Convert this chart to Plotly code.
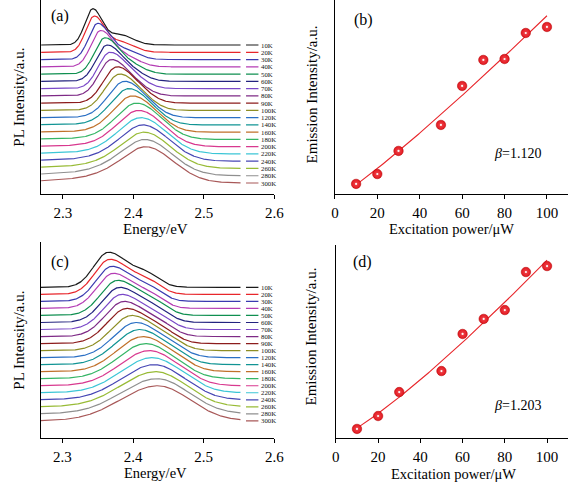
import numpy as np
import plotly.graph_objects as go

# ---------------- data ----------------
temps = [10, 20, 30, 40, 50, 60, 70, 80, 90, 100, 120, 140, 160, 180, 200, 220, 240, 260, 280, 300]
temp_labels = [f"{t}K" for t in temps]

# sample (a): peak energy (eV), left/right half widths (eV), high-energy shoulder weight, low-energy tail weight
peak_a = [2.342, 2.344, 2.349, 2.353, 2.359, 2.362, 2.366, 2.368, 2.376, 2.380,
          2.387, 2.393, 2.398, 2.404, 2.407, 2.410, 2.413, 2.415, 2.416, 2.417]
hwl_a = [0.013, 0.014, 0.015, 0.016, 0.017, 0.018, 0.019, 0.020, 0.022, 0.024,
         0.027, 0.030, 0.032, 0.035, 0.037, 0.039, 0.041, 0.043, 0.045, 0.046]
hwr_a = [0.015, 0.017, 0.019, 0.021, 0.023, 0.025, 0.027, 0.028, 0.030, 0.031,
         0.033, 0.035, 0.037, 0.039, 0.040, 0.042, 0.043, 0.044, 0.045, 0.046]
shoulder_a = [0.30, 0.29, 0.27, 0.25, 0.23, 0.21, 0.19, 0.17, 0.13, 0.11,
              0.08, 0.06, 0.05, 0.04, 0.03, 0.02, 0.01, 0.0, 0.0, 0.0]
tail_a = [0, 0, 0, 0, 0, 0, 0, 0, 0, 0,
          0.05, 0.10, 0.15, 0.20, 0.25, 0.30, 0.40, 0.45, 0.55, 0.70]

# sample (c)
peak_c = [2.365, 2.367, 2.370, 2.372, 2.378, 2.381, 2.384, 2.387, 2.391, 2.398,
          2.404, 2.409, 2.414, 2.418, 2.423, 2.427, 2.430, 2.432, 2.434, 2.435]
hwl_c = [0.024, 0.025, 0.026, 0.027, 0.028, 0.029, 0.030, 0.031, 0.032, 0.034,
         0.037, 0.040, 0.043, 0.046, 0.049, 0.052, 0.055, 0.058, 0.060, 0.062]
hwr_c = [0.032, 0.033, 0.034, 0.035, 0.036, 0.037, 0.038, 0.039, 0.040, 0.041,
         0.042, 0.043, 0.044, 0.045, 0.046, 0.048, 0.049, 0.050, 0.052, 0.053]
shoulder_c = [0.33, 0.32, 0.30, 0.28, 0.26, 0.24, 0.22, 0.20, 0.18, 0.15,
              0.12, 0.10, 0.08, 0.06, 0.05, 0.04, 0.03, 0.02, 0.01, 0.0]
tail_c = [0] * 20

# excitation-power dependence
power = [10, 20, 30, 50, 60, 70, 80, 90, 100]
emission_b = [0.052, 0.103, 0.222, 0.356, 0.557, 0.691, 0.696, 0.830, 0.861]
emission_d = [0.047, 0.114, 0.238, 0.347, 0.539, 0.617, 0.663, 0.860, 0.891]
beta_b = 1.120
beta_d = 1.203

energy_ticks = [2.3, 2.4, 2.5, 2.6]
power_ticks = [0, 20, 40, 60, 80, 100]

# ---------------- styling ----------------
colors = ['#1a1a1a', '#e8262b', '#3a3ab0', '#b43cb4', '#0f8f50', '#23237f', '#7a48c8',
          '#7e2a86', '#8c1c1c', '#8e8e24', '#2a6fc4', '#119494', '#c0702a', '#35b565',
          '#d8398f', '#3cc6d6', '#4646b4', '#98bb36', '#8f8f8f', '#a85858']
FONT = "Liberation Serif"
STEP = 0.2                # vertical offset between stacked spectra
E_MIN, E_END = 2.269, 2.552
LEG_X0, LEG_X1, LEG_TX = 2.5598, 2.5774, 2.5792


def spectrum(e, e0, wl, wr, shoulder, tail, sh_off, sh_w=0.022):
    d = e - e0
    w = np.where(d < 0, wl, wr)
    eta = np.where(d < 0, tail, 0.0)
    g = np.exp(-np.log(2) * (d / w) ** 2)
    lor = 1.0 / (1.0 + (d / w) ** 2)
    y = (1 - eta) * g + eta * lor
    y = y + shoulder * np.exp(-np.log(2) * ((d - sh_off) / sh_w) ** 2)
    return y / y.max()


energy = np.linspace(E_MIN, E_END, 500)
fig = go.Figure()
annotations = []

panels = [
    ("x", "y", peak_a, hwl_a, hwr_a, shoulder_a, tail_a, 0.038),
    ("x3", "y3", peak_c, hwl_c, hwr_c, shoulder_c, tail_c, 0.054),
]
n = len(temps)
for xa, ya, pk, wl, wr, sh, tl, off in panels:
    for i in range(n):
        base = (n - 1 - i) * STEP
        y = spectrum(energy, pk[i], wl[i], wr[i], sh[i], tl[i], off) + base
        fig.add_trace(go.Scatter(x=energy, y=y, mode="lines", xaxis=xa, yaxis=ya,
                                 line=dict(color=colors[i], width=1.2), showlegend=False,
                                 hoverinfo="skip"))
        fig.add_trace(go.Scatter(x=[LEG_X0, LEG_X1], y=[base, base], mode="lines",
                                 xaxis=xa, yaxis=ya, cliponaxis=False,
                                 line=dict(color=colors[i], width=1.2), showlegend=False))
        annotations.append(dict(x=LEG_TX, y=base, xref=xa, yref=ya, text=temp_labels[i],
                                showarrow=False, xanchor="left", yanchor="middle",
                                borderpad=0,
                                font=dict(family=FONT, size=6.8, color="#111")))

for xa, ya, emis, beta in [("x2", "y2", emission_b, beta_b), ("x4", "y4", emission_d, beta_d)]:
    p = np.array(power, dtype=float)
    a, c = np.polyfit(p ** beta, np.array(emis), 1)
    pf = np.linspace(min(power), max(power), 200)
    fig.add_trace(go.Scatter(x=pf, y=a * pf ** beta + c, mode="lines", xaxis=xa, yaxis=ya,
                             line=dict(color="#e8262b", width=1.1), showlegend=False))
    fig.add_trace(go.Scatter(x=power, y=emis, mode="markers", xaxis=xa, yaxis=ya,
                             marker=dict(size=9.5, color="#e3161e",
                                         line=dict(width=0.5, color="#b00000"),
                                         gradient=dict(type="radial", color="#f04a50")),
                             showlegend=False))
    fig.add_trace(go.Scatter(x=power, y=emis, mode="markers", xaxis=xa, yaxis=ya,
                             marker=dict(size=2.2, color="rgba(255,255,255,0.95)",
                                         line=dict(width=0)),
                             showlegend=False))

W, H = 585, 483


def px_x(v):
    return v / W


def px_y(v):
    return 1 - v / H


axis_common = dict(showline=True, linecolor="black", linewidth=1.2, showgrid=False,
                   zeroline=False, mirror=False)
xtick = dict(ticks="outside", ticklen=4, tickwidth=1, tickcolor="black",
             tickfont=dict(family=FONT, size=15, color="black"), ticklabelstandoff=1)
ynone = dict(ticks="", showticklabels=False)

layout = dict(
    width=W, height=H, margin=dict(l=0, r=0, t=0, b=0),
    paper_bgcolor="white", plot_bgcolor="white", showlegend=False,
    xaxis=dict(domain=[px_x(38), px_x(277)], range=[E_MIN, 2.6], tickvals=energy_ticks,
               ticktext=[f"{v:.1f}" for v in energy_ticks], anchor="y", **axis_common, **xtick),
    yaxis=dict(domain=[px_y(194), px_y(0)], range=[-0.303, 5.04], anchor="x",
               **axis_common, **ynone),
    xaxis2=dict(domain=[px_x(339), px_x(578)], range=[0, 110], tickvals=power_ticks,
                anchor="y2", **axis_common, **xtick),
    yaxis2=dict(domain=[px_y(194), px_y(0)], range=[0, 1], anchor="x2",
                **axis_common, **ynone),
    xaxis3=dict(domain=[px_x(37.5), px_x(277)], range=[E_MIN, 2.6], tickvals=energy_ticks,
                ticktext=[f"{v:.1f}" for v in energy_ticks], anchor="y3", **axis_common, **xtick),
    yaxis3=dict(domain=[px_y(437.5), px_y(242)], range=[-0.473, 5.09], anchor="x3",
                **axis_common, **ynone),
    xaxis4=dict(domain=[px_x(340), px_x(578)], range=[0, 110], tickvals=power_ticks,
                anchor="y4", **axis_common, **xtick),
    yaxis4=dict(domain=[px_y(438), px_y(245)], range=[0, 1], anchor="x4",
                **axis_common, **ynone),
)


def label(x, y, text, size=15, angle=0, xanchor="center"):
    annotations.append(dict(x=px_x(x), y=px_y(y), xref="paper", yref="paper", text=text,
                            showarrow=False, textangle=angle, xanchor=xanchor, yanchor="middle",
                            borderpad=0,
                            font=dict(family=FONT, size=size, color="black")))


label(155, 229, "Energy/eV")
label(155, 473, "Energy/eV", size=14.5)
label(15, 97, "PL Intensity/a.u.", angle=-90)
label(15, 340, "PL Intensity/a.u.", angle=-90)
label(316, 94, "Emission Intensity/a.u.", angle=-90)
label(315, 336, "Emission Intensity/a.u.", angle=-90)
label(458, 229.5, "Excitation power/\u03bcW", size=14.5)
label(461, 473.5, "Excitation power/\u03bcW", size=14.5)
label(57, 16, "(a)", size=16)
label(368, 20, "(b)", size=16)
label(57, 262, "(c)", size=16)
label(367, 262, "(d)", size=16)
label(526, 153, f"<i>\u03b2</i>={beta_b:.3f}", size=14)
label(526, 405, f"<i>\u03b2</i>={beta_d:.3f}", size=14)

layout["annotations"] = annotations
fig.update_layout(**layout)
fig.write_html("out.html")
